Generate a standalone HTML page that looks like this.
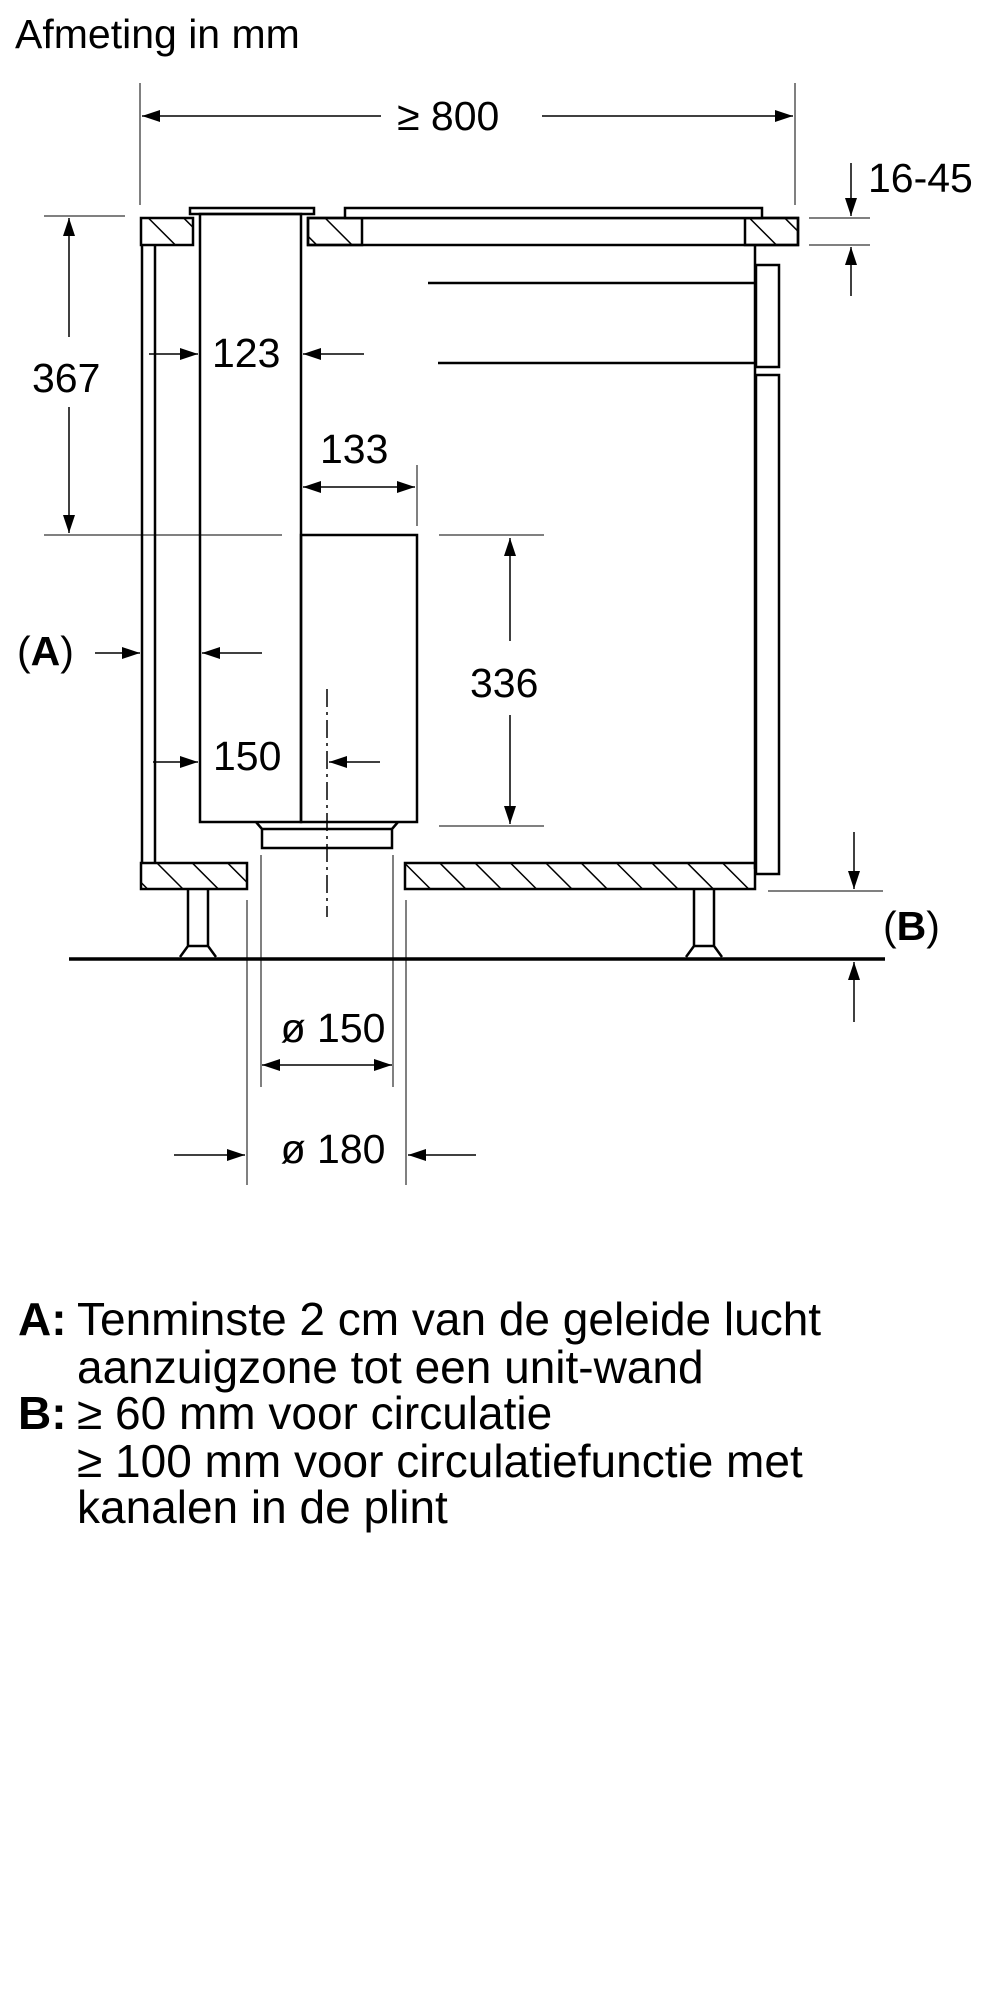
<!DOCTYPE html>
<html><head><meta charset="utf-8"><style>
html,body{margin:0;padding:0;background:#fff;}
svg{display:block;}
text{font-family:"Liberation Sans",Arial,sans-serif;fill:#000;}
.a{stroke:#000;stroke-width:1.5;fill:none;}
.t{stroke:#000;stroke-width:1;fill:none;}
.k{stroke:#000;stroke-width:2.5;}
</style></head><body>
<svg width="1000" height="2000" viewBox="0 0 1000 2000" xmlns="http://www.w3.org/2000/svg">
<defs>
<pattern id="h" patternUnits="userSpaceOnUse" width="25" height="25" patternTransform="rotate(-45)">
<line x1="0" y1="0" x2="0" y2="25" stroke="#000" stroke-width="3"/>
</pattern>
<marker id="a" viewBox="0 0 18 12" refX="18" refY="6" markerWidth="18" markerHeight="12" markerUnits="userSpaceOnUse" orient="auto-start-reverse">
<path d="M0,0 L18,6 L0,12 z" fill="#000"/>
</marker>
</defs>
<text x="15" y="48" font-size="41">Afmeting in mm</text>

<line class="t" x1="140" y1="83" x2="140" y2="205"/>
<line class="t" x1="795" y1="83" x2="795" y2="205"/>
<line class="a" x1="381" y1="116" x2="142" y2="116" marker-end="url(#a)"/>
<line class="a" x1="542" y1="116" x2="793" y2="116" marker-end="url(#a)"/>
<text x="397" y="130" font-size="41">≥ 800</text>

<text x="868" y="192" font-size="41">16-45</text>
<line class="t" x1="809" y1="218" x2="870" y2="218"/>
<line class="t" x1="809" y1="245" x2="870" y2="245"/>
<line class="a" x1="851" y1="163" x2="851" y2="216" marker-end="url(#a)"/>
<line class="a" x1="851" y1="296" x2="851" y2="247" marker-end="url(#a)"/>

<rect x="141" y="218" width="52" height="27" class="k" style="fill:url(#h)"/>
<rect x="190" y="208" width="124" height="6" class="k" style="fill:#fff"/>
<rect x="308" y="218" width="490" height="27" class="k" style="fill:#fff"/>
<rect x="308" y="218" width="54" height="27" class="k" style="fill:url(#h)"/>
<rect x="745" y="218" width="53" height="27" class="k" style="fill:url(#h)"/>
<rect x="345" y="208" width="417" height="10" class="k" style="fill:#fff"/>

<line class="k" x1="142" y1="245" x2="142" y2="863"/>
<line class="k" x1="155" y1="245" x2="155" y2="863"/>

<rect x="200" y="214" width="101" height="608" class="k" style="fill:none"/>
<rect x="301" y="535" width="116" height="287" class="k" style="fill:none"/>
<path class="k" style="fill:none" d="M256,822 L262,829 L262,848 L392,848 L392,829 L398,822"/>
<line class="k" x1="262" y1="829" x2="392" y2="829"/>
<line class="a" x1="327" y1="689" x2="327" y2="917" stroke-dasharray="18,5,3,5"/>

<line class="k" x1="755" y1="245" x2="755" y2="869"/>
<rect x="756" y="265" width="23" height="102" class="k" style="fill:#fff"/>
<rect x="756" y="375" width="23" height="499" class="k" style="fill:#fff"/>
<line class="k" x1="428" y1="283" x2="756" y2="283"/>
<line class="k" x1="438" y1="363" x2="756" y2="363"/>

<rect x="141" y="863" width="106" height="26" class="k" style="fill:url(#h)"/>
<rect x="405" y="863" width="350" height="26" class="k" style="fill:url(#h)"/>

<path class="k" style="fill:none" d="M188,889 L188,946 L180,957 M208,889 L208,946 L216,957 M188,946 L208,946"/>
<path class="k" style="fill:none" d="M694,889 L694,946 L686,957 M714,889 L714,946 L722,957 M694,946 L714,946"/>
<line x1="69" y1="959" x2="885" y2="959" stroke="#000" stroke-width="3.5"/>

<line class="t" x1="44" y1="216" x2="125" y2="216"/>
<line class="t" x1="44" y1="535" x2="282" y2="535"/>
<line class="a" x1="69" y1="337" x2="69" y2="218" marker-end="url(#a)"/>
<line class="a" x1="69" y1="407" x2="69" y2="533" marker-end="url(#a)"/>
<text x="32" y="392" font-size="41">367</text>

<text x="212" y="367" font-size="41">123</text>
<line class="a" x1="149" y1="354" x2="198" y2="354" marker-end="url(#a)"/>
<line class="a" x1="364" y1="354" x2="303" y2="354" marker-end="url(#a)"/>

<text x="320" y="463" font-size="41">133</text>
<line class="t" x1="417" y1="465" x2="417" y2="526"/>
<line class="a" x1="303" y1="487" x2="415" y2="487" marker-start="url(#a)" marker-end="url(#a)"/>

<line class="t" x1="439" y1="535" x2="544" y2="535"/>
<line class="t" x1="439" y1="826" x2="544" y2="826"/>
<line class="a" x1="510" y1="641" x2="510" y2="538" marker-end="url(#a)"/>
<line class="a" x1="510" y1="715" x2="510" y2="824" marker-end="url(#a)"/>
<text x="470" y="697" font-size="41">336</text>

<text x="17" y="665" font-size="41">(<tspan font-weight="bold">A</tspan>)</text>
<line class="a" x1="95" y1="653" x2="140" y2="653" marker-end="url(#a)"/>
<line class="a" x1="262" y1="653" x2="202" y2="653" marker-end="url(#a)"/>

<text x="213" y="770" font-size="41">150</text>
<line class="a" x1="153" y1="762" x2="198" y2="762" marker-end="url(#a)"/>
<line class="a" x1="380" y1="762" x2="329" y2="762" marker-end="url(#a)"/>

<text x="883" y="940" font-size="41">(<tspan font-weight="bold">B</tspan>)</text>
<line class="t" x1="768" y1="891" x2="883" y2="891"/>
<line class="a" x1="854" y1="832" x2="854" y2="889" marker-end="url(#a)"/>
<line class="a" x1="854" y1="1022" x2="854" y2="962" marker-end="url(#a)"/>

<line class="t" x1="247" y1="900" x2="247" y2="1185"/>
<line class="t" x1="406" y1="900" x2="406" y2="1185"/>
<line class="t" x1="261" y1="855" x2="261" y2="1087"/>
<line class="t" x1="393" y1="855" x2="393" y2="1087"/>
<text x="333" y="1042" font-size="41" text-anchor="middle">ø 150</text>
<line class="a" x1="262" y1="1065" x2="392" y2="1065" marker-start="url(#a)" marker-end="url(#a)"/>
<text x="333" y="1163" font-size="41" text-anchor="middle">ø 180</text>
<line class="a" x1="174" y1="1155" x2="245" y2="1155" marker-end="url(#a)"/>
<line class="a" x1="476" y1="1155" x2="408" y2="1155" marker-end="url(#a)"/>

<g font-size="46">
<text x="18" y="1335" font-weight="bold">A:</text>
<text x="77" y="1335">Tenminste 2 cm van de geleide lucht</text>
<text x="77" y="1383">aanzuigzone tot een unit-wand</text>
<text x="18" y="1429" font-weight="bold">B:</text>
<text x="77" y="1429">≥ 60 mm voor circulatie</text>
<text x="77" y="1477">≥ 100 mm voor circulatiefunctie met</text>
<text x="77" y="1523">kanalen in de plint</text>
</g>
</svg>
</body></html>
